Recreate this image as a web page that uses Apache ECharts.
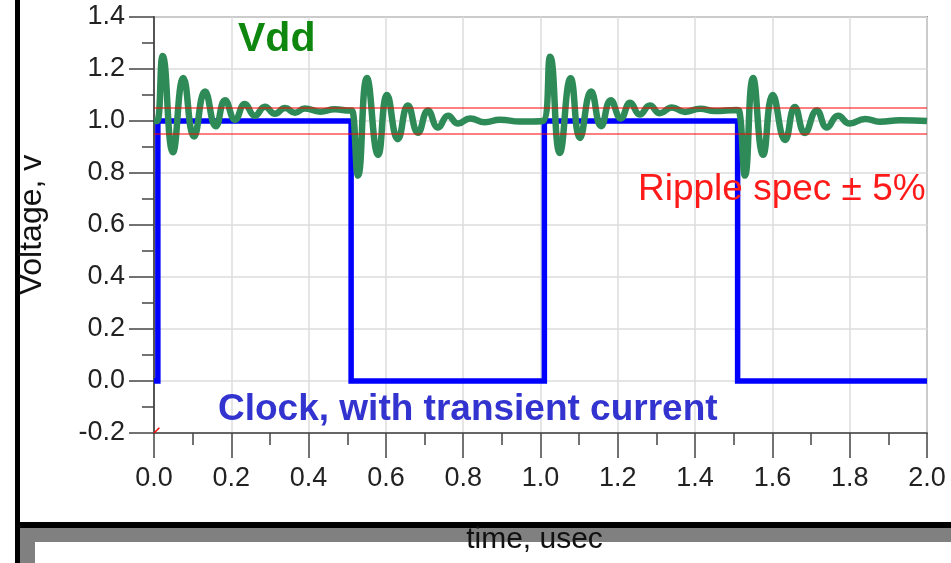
<!DOCTYPE html>
<html><head><meta charset="utf-8">
<script src="https://cdn.jsdelivr.net/npm/echarts@6/dist/echarts.min.js"></script>
<style>html,body{margin:0;padding:0;background:#fff}#c{width:951px;height:563px}</style>
</head><body><div id="c"></div>
<script>
// ---- data ----
const clockT = [0, 0.01, 0.01, 0.51, 0.51, 1.01, 1.01, 1.51, 1.51, 2.0];
const clockV = [0, 0, 1, 1, 0, 0, 1, 1, 0, 0];

const vddT = [
  0, 0.008, 0.0225, 0.049, 0.076, 0.1035, 0.132, 0.160, 0.184, 0.21, 0.235, 0.261, 0.287, 0.313, 0.339, 0.365, 0.39, 0.43, 0.468, 0.508,
  0.512, 0.528, 0.551, 0.58, 0.603, 0.631, 0.657, 0.683, 0.709, 0.735, 0.761, 0.787, 0.818, 0.856, 0.895, 0.947, 1.006,
  1.025, 1.050, 1.078, 1.102, 1.131, 1.157, 1.182, 1.208, 1.232, 1.257, 1.283, 1.309, 1.34, 1.374, 1.413, 1.451, 1.508,
  1.514, 1.529, 1.55, 1.576, 1.601, 1.633, 1.658, 1.684, 1.715, 1.741, 1.77, 1.8, 1.84, 1.878, 1.93, 2.0
];
const vddV = [
  1.0, 1.0, 1.25, 0.88, 1.165, 0.94, 1.113, 0.98, 1.08, 1.005, 1.065, 1.02, 1.055, 1.028, 1.05, 1.032, 1.048, 1.036, 1.045, 1.04,
  1.04, 0.79, 1.165, 0.87, 1.10, 0.93, 1.06, 0.955, 1.04, 0.975, 1.02, 0.99, 1.01, 0.995, 1.005, 0.998, 1.0,
  1.247, 0.877, 1.164, 0.935, 1.113, 0.98, 1.08, 1.01, 1.07, 1.025, 1.06, 1.03, 1.052, 1.035, 1.047, 1.038, 1.042,
  1.04, 0.79, 1.165, 0.87, 1.10, 0.927, 1.054, 0.954, 1.04, 0.975, 1.02, 0.99, 1.008, 0.997, 1.003, 1.0
];

const specT = [0, 2.0];
const specHigh = [1.05, 1.05];
const specLow = [0.95, 0.95];

const originMarkT = [0, 0.014];
const originMarkV = [-0.2, -0.18];

const xTickLabels = ['0.0','0.2','0.4','0.6','0.8','1.0','1.2','1.4','1.6','1.8','2.0'];
const yTickLabels = ['-0.2','0.0','0.2','0.4','0.6','0.8','1.0','1.2','1.4'];

const labels = {
  vdd: 'Vdd',
  ripple: 'Ripple spec \u00b1 5%',
  clock: 'Clock, with transient current',
  xName: 'time, usec',
  yName: 'Voltage, v'
};

// ---- build ----
const zip = (a, b) => a.map((v, i) => [v, b[i]]);
const FONT = '"Liberation Sans", Arial, Helvetica, sans-serif';

const chart = echarts.init(document.getElementById('c'), null, {renderer: 'canvas'});
chart.setOption({
  animation: false,
  backgroundColor: '#fff',
  grid: {left: 154, top: 17, right: 24, bottom: 130, show: true, borderColor: '#999', borderWidth: 2, backgroundColor: 'transparent'},
  xAxis: {
    type: 'value', min: 0, max: 2, interval: 0.2,
    name: labels.xName, nameLocation: 'middle', nameGap: 92,
    nameTextStyle: {fontFamily: FONT, fontSize: 30, color: '#111', padding: [0, 12, 0, 0]},
    axisLine: {show: true, onZero: false, lineStyle: {color: '#666', width: 2}},
    axisTick: {show: true, length: 25, lineStyle: {color: '#444', width: 1.5}},
    minorTick: {show: true, splitNumber: 2, length: 12, lineStyle: {color: '#444', width: 1.5}},
    axisLabel: {margin: 32, fontFamily: FONT, fontSize: 27, color: '#222',
      formatter: v => xTickLabels[Math.round(v / 0.2)]},
    splitLine: {show: true, lineStyle: {color: '#dcdcdc', width: 1.5}}
  },
  yAxis: {
    type: 'value', min: -0.2, max: 1.4, interval: 0.2,
    name: labels.yName, nameLocation: 'middle', nameGap: 106, nameRotate: 90,
    nameTextStyle: {fontFamily: FONT, fontSize: 32, color: '#111'},
    axisLine: {show: true, onZero: false, lineStyle: {color: '#555', width: 2}},
    axisTick: {show: true, length: 25, lineStyle: {color: '#444', width: 1.5}},
    minorTick: {show: true, splitNumber: 2, length: 12, lineStyle: {color: '#444', width: 1.5}},
    axisLabel: {margin: 29, fontFamily: FONT, fontSize: 27, color: '#222',
      formatter: v => yTickLabels[Math.round((v + 0.2) / 0.2)]},
    splitLine: {show: true, lineStyle: {color: '#dcdcdc', width: 1.5}}
  },
  series: [
    {type: 'line', data: zip(clockT, clockV), symbol: 'none', z: 3,
     lineStyle: {color: '#0000ff', width: 5.5, join: 'miter'}},
    {type: 'line', data: zip(vddT, vddV), symbol: 'none', smooth: 0.5, z: 4,
     lineStyle: {color: '#2e8b57', width: 6.5}},
    {type: 'line', data: zip(specT, specHigh), symbol: 'none', z: 5,
     lineStyle: {color: '#ff0000', width: 1}},
    {type: 'line', data: zip(specT, specLow), symbol: 'none', z: 5,
     lineStyle: {color: '#ff0000', width: 1}},
    {type: 'line', data: zip(originMarkT, originMarkV), symbol: 'none', z: 5,
     lineStyle: {color: '#ff0000', width: 1.5}}
  ],
  graphic: [
    {type: 'rect', z: -10, shape: {x: 15, y: 0, width: 5, height: 563}, style: {fill: '#000'}},
    {type: 'rect', z: -10, shape: {x: 20, y: 528, width: 931, height: 14}, style: {fill: '#808080'}},
    {type: 'rect', z: -10, shape: {x: 20, y: 528, width: 15, height: 35}, style: {fill: '#808080'}},
    {type: 'rect', z: -9, shape: {x: 15, y: 522, width: 936, height: 6}, style: {fill: '#000'}},
    {type: 'text', z: 20, left: 238, top: 19, style: {text: labels.vdd, fill: '#0f870f', font: 'bold 41px ' + FONT}},
    {type: 'text', z: 20, left: 638, top: 171, style: {text: labels.ripple, fill: '#ff1a1a', font: '37px ' + FONT}},
    {type: 'text', z: 20, left: 218, top: 391, style: {text: labels.clock, fill: '#3333d0', font: 'bold 37px ' + FONT}}
  ]
});
</script>
</body></html>
